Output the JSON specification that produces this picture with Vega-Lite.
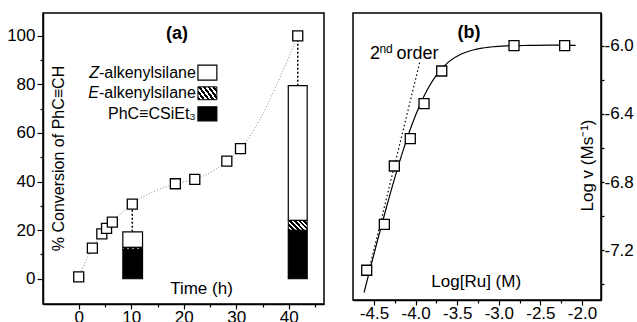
{
  "$schema": "https://vega.github.io/schema/vega-lite/v6.json",
  "padding": {"left": 5, "top": 12, "right": 0, "bottom": 0},
  "spacing": 27,
  "config": {
    "font": "Liberation Sans",
    "view": {"stroke": "black", "strokeWidth": 1.5},
    "axis": {"grid": false, "domainColor": "black", "domainWidth": 1.5, "tickColor": "black", "tickWidth": 1.2, "labelColor": "black", "labelFontSize": 17, "labelFont": "Liberation Sans", "titleFont": "Liberation Sans", "titleFontSize": 17, "titleFontWeight": "normal", "titleColor": "black", "labelPadding": 2}
  },
  "datasets": {
    "ptsA": [{"x":0,"y":0.8},{"x":2.6,"y":12.6},{"x":4.4,"y":18.5},{"x":5.3,"y":20.7},{"x":6.4,"y":23.3},{"x":10.2,"y":30.7},{"x":18.4,"y":39.1},{"x":22.1,"y":40.9},{"x":28.2,"y":48.4},{"x":30.8,"y":53.6},{"x":41.7,"y":100}],
    "rectsA": [
      {"x":8.4,"x2":12.15,"y":0,"y2":12.2,"part":"black"},
      {"x":8.4,"x2":12.15,"y":12.2,"y2":12.9,"part":"hatch"},
      {"x":8.4,"x2":12.15,"y":12.9,"y2":19.3,"part":"white"},
      {"x":39.9,"x2":43.5,"y":0,"y2":20,"part":"black"},
      {"x":39.9,"x2":43.5,"y":20,"y2":24,"part":"hatch"},
      {"x":39.9,"x2":43.5,"y":24,"y2":79.5,"part":"white"},
      {"x":22.7,"x2":26.3,"y":81.8,"y2":87.9,"part":"white"},
      {"x":22.7,"x2":26.3,"y":73.7,"y2":79.0,"part":"hatch"},
      {"x":22.7,"x2":26.3,"y":65.0,"y2":70.8,"part":"black"}
    ],
    "rulesA": [{"x":10.2,"y":19.3,"y2":30.7},{"x":41.7,"y":79.5,"y2":100}],
    "textA": [{"x":22.3,"y":84.8,"label":"-alkenylsilane"},{"x":22.3,"y":76.3,"label":"-alkenylsilane"},{"x":22.3,"y":67.9,"label":"PhC≡CSiEt₃"}],
    "italA": [{"x":3.85,"y":84.8,"label":"Z"},{"x":3.85,"y":76.3,"label":"E"}],
    "titleA": [{"x":18.7,"y":100.7,"label":"(a)"}],
    "ptsB": [{"x":-4.588,"y":-7.319},{"x":-4.376,"y":-7.049},{"x":-4.256,"y":-6.706},{"x":-4.064,"y":-6.545},{"x":-3.899,"y":-6.339},{"x":-3.686,"y":-6.147},{"x":-2.817,"y":-5.998},{"x":-2.208,"y":-5.998}],
    "curveB": [{"x":-4.62,"y":-7.45},{"x":-4.55,"y":-7.316},{"x":-4.45,"y":-7.128},{"x":-4.35,"y":-6.947},{"x":-4.25,"y":-6.774},{"x":-4.15,"y":-6.614},{"x":-4.05,"y":-6.471},{"x":-3.95,"y":-6.349},{"x":-3.85,"y":-6.249},{"x":-3.75,"y":-6.171},{"x":-3.6,"y":-6.092},{"x":-3.45,"y":-6.047},{"x":-3.3,"y":-6.022},{"x":-3.1,"y":-6.006},{"x":-2.9,"y":-5.999},{"x":-2.7,"y":-5.997},{"x":-2.4,"y":-5.995},{"x":-2.076,"y":-5.996}],
    "dotB": [{"x":-4.55,"y":-7.295},{"x":-3.95,"y":-6.095}],
    "titleB": [{"x":-3.358,"y":-5.925,"label":"(b)"}],
    "twoB": [{"x":-4.55,"y":-6.045,"label":"2"}],
    "ndB": [{"x":-4.435,"y":-6.015,"label":"nd"}],
    "orderB": [{"x":-4.23,"y":-6.045,"label":"order"}]
  },
  "hconcat": [
    {
      "width": 281,
      "height": 291,
      "encoding": {
        "x": {"field": "x", "type": "quantitative", "scale": {"domain": [-6.8, 46.7], "nice": false, "zero": false},
          "axis": {"values": [0,5,10,15,20,25,30,35,40,45], "labelExpr": "datum.value % 10 === 0 ? datum.label : ''", "labelPadding": 0,
            "tickSize": {"condition": {"test": "datum.value % 10 === 0", "value": 5}, "value": 3},
            "title": "Time (h)", "titleX": 158, "titleY": -16, "titleAlign": "center", "titleBaseline": "middle"}},
        "y": {"field": "y", "type": "quantitative", "scale": {"domain": [-10.4, 109.4], "nice": false, "zero": false},
          "axis": {"values": [0,10,20,30,40,50,60,70,80,90,100], "labelExpr": "datum.value % 20 === 0 ? datum.label : ''",
            "tickSize": {"condition": {"test": "datum.value % 20 === 0", "value": 6}, "value": 3},
            "title": "% Conversion of PhC≡CH", "titleFontSize": 16, "titleX": 15, "titleY": 145, "titleAngle": 270, "titleAlign": "center", "titleBaseline": "middle"}}
      },
      "layer": [
        {"data": {"name": "ptsA"}, "mark": {"type": "line", "interpolate": "monotone", "color": "#8a8a8a", "strokeWidth": 1, "strokeDash": [1, 2]}},
        {"data": {"name": "rulesA"}, "mark": {"type": "rule", "color": "black", "strokeWidth": 1.5, "strokeDash": [2, 2]}, "encoding": {"y2": {"field": "y2"}}},
        {"data": {"name": "rectsA"}, "transform": [{"filter": "datum.part === 'black'"}], "mark": {"type": "rect", "fill": "black", "stroke": "black", "strokeWidth": 1.2}, "encoding": {"x2": {"field": "x2"}, "y2": {"field": "y2"}}},
        {"data": {"name": "rectsA"}, "transform": [{"filter": "datum.part === 'white'"}], "mark": {"type": "rect", "fill": "white", "stroke": "black", "strokeWidth": 1.2}, "encoding": {"x2": {"field": "x2"}, "y2": {"field": "y2"}}},
        {"data": {"name": "rectsA"}, "transform": [{"filter": "datum.part === 'hatch'"}], "mark": {"type": "rect", "stroke": "black", "strokeWidth": 1, "fill": {"gradient": "linear", "x1": 0, "y1": 1, "x2": 1.2, "y2": 0.4, "stops": [
          {"offset": 0, "color": "black"}, {"offset": 0.09, "color": "black"}, {"offset": 0.09, "color": "white"}, {"offset": 0.1667, "color": "white"},
          {"offset": 0.1667, "color": "black"}, {"offset": 0.2567, "color": "black"}, {"offset": 0.2567, "color": "white"}, {"offset": 0.3333, "color": "white"},
          {"offset": 0.3333, "color": "black"}, {"offset": 0.4233, "color": "black"}, {"offset": 0.4233, "color": "white"}, {"offset": 0.5, "color": "white"},
          {"offset": 0.5, "color": "black"}, {"offset": 0.59, "color": "black"}, {"offset": 0.59, "color": "white"}, {"offset": 0.6667, "color": "white"},
          {"offset": 0.6667, "color": "black"}, {"offset": 0.7567, "color": "black"}, {"offset": 0.7567, "color": "white"}, {"offset": 0.8333, "color": "white"},
          {"offset": 0.8333, "color": "black"}, {"offset": 0.9233, "color": "black"}, {"offset": 0.9233, "color": "white"}, {"offset": 1, "color": "white"}]}},
          "encoding": {"x2": {"field": "x2"}, "y2": {"field": "y2"}}},
        {"data": {"name": "ptsA"}, "mark": {"type": "point", "shape": "square", "size": 100, "filled": true, "fill": "white", "stroke": "black", "strokeWidth": 1.3, "opacity": 1}},
        {"data": {"name": "textA"}, "mark": {"type": "text", "align": "right", "baseline": "middle", "fontSize": 16, "color": "black"}, "encoding": {"text": {"field": "label"}}},
        {"data": {"name": "italA"}, "mark": {"type": "text", "align": "right", "baseline": "middle", "fontSize": 16, "fontStyle": "italic", "color": "black"}, "encoding": {"text": {"field": "label"}}},
        {"data": {"name": "titleA"}, "mark": {"type": "text", "align": "center", "baseline": "middle", "fontSize": 18, "fontWeight": "bold", "color": "black"}, "encoding": {"text": {"field": "label"}}}
      ]
    },
    {
      "width": 248,
      "height": 287,
      "encoding": {
        "x": {"field": "x", "type": "quantitative", "scale": {"domain": [-4.753, -1.771], "nice": false, "zero": false},
          "axis": {"values": [-4.5,-4.25,-4,-3.75,-3.5,-3.25,-3,-2.75,-2.5,-2.25,-2], "labelExpr": "(round(datum.value*4) % 2 === 0) ? '-' + format(abs(datum.value), '.1f') : ''", "labelPadding": 0,
            "tickSize": {"condition": {"test": "round(datum.value*4) % 2 === 0", "value": 5}, "value": 3},
            "title": "Log[Ru] (M)", "titleX": 122.7, "titleY": -19, "titleAlign": "center", "titleBaseline": "middle"}},
        "y": {"field": "y", "type": "quantitative", "scale": {"domain": [-7.494, -5.806], "nice": false, "zero": false},
          "axis": {"orient": "right", "values": [-7.4,-7.2,-7.0,-6.8,-6.6,-6.4,-6.2,-6.0], "labelExpr": "(round(abs(datum.value)*10) % 4 === 0) ? '-' + format(abs(datum.value), '.1f') : ''",
            "tickSize": 3, "labelPadding": 0,
            "title": "Log v (Ms⁻¹)", "titleX": -14, "titleY": 152, "titleAngle": 270, "titleAlign": "center", "titleBaseline": "middle"}}
      },
      "layer": [
        {"data": {"name": "curveB"}, "mark": {"type": "line", "interpolate": "monotone", "color": "black", "strokeWidth": 1.2}},
        {"data": {"name": "dotB"}, "mark": {"type": "line", "color": "black", "strokeWidth": 1.2, "strokeDash": [1.5, 2.5]}},
        {"data": {"name": "ptsB"}, "mark": {"type": "point", "shape": "square", "size": 100, "filled": true, "fill": "white", "stroke": "black", "strokeWidth": 1.3, "opacity": 1}},
        {"data": {"name": "titleB"}, "mark": {"type": "text", "align": "center", "baseline": "middle", "fontSize": 18, "fontWeight": "bold", "color": "black"}, "encoding": {"text": {"field": "label"}}},
        {"data": {"name": "twoB"}, "mark": {"type": "text", "align": "left", "baseline": "middle", "fontSize": 18, "color": "black"}, "encoding": {"text": {"field": "label"}}},
        {"data": {"name": "ndB"}, "mark": {"type": "text", "align": "left", "baseline": "middle", "fontSize": 12, "color": "black"}, "encoding": {"text": {"field": "label"}}},
        {"data": {"name": "orderB"}, "mark": {"type": "text", "align": "left", "baseline": "middle", "fontSize": 18, "color": "black"}, "encoding": {"text": {"field": "label"}}}
      ]
    }
  ]
}
